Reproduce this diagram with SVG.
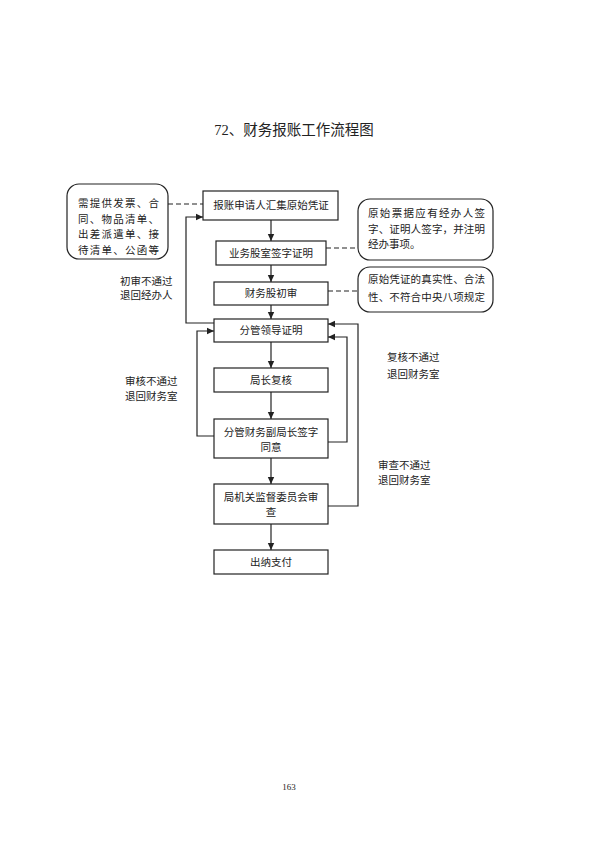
<svg xmlns="http://www.w3.org/2000/svg" width="596" height="842" viewBox="0 0 596 842">
<style>
  text { font-family: "Liberation Serif", "Noto Sans CJK SC", serif; fill: #222; font-size: 10.5px; }
  .c { text-anchor: middle; }
  .box { fill: #fff; stroke: #222; stroke-width: 1.2; }
  .note { fill: #fff; stroke: #222; stroke-width: 1.2; }
  .ln { fill: none; stroke: #222; stroke-width: 1.2; }
  .dash { fill: none; stroke: #222; stroke-width: 1.2; stroke-dasharray: 5 3; }
  .title { font-size: 14.5px; }
  .pg { font-size: 9px; }
</style>
<defs>
  <marker id="ah" markerUnits="userSpaceOnUse" markerWidth="8" markerHeight="8" refX="7" refY="4" orient="auto">
    <path d="M0,0.8 L7,4 L0,7.2 Z" fill="#222"/>
  </marker>
</defs>
<rect width="596" height="842" fill="#fff"/>
<text class="title c" x="294" y="135">72、财务报账工作流程图</text>

<g id="connectors">
  <line class="ln" x1="271" y1="220" x2="271" y2="241" marker-end="url(#ah)"/>
  <line class="ln" x1="271" y1="265" x2="271" y2="282" marker-end="url(#ah)"/>
  <line class="ln" x1="271" y1="305" x2="271" y2="319" marker-end="url(#ah)"/>
  <line class="ln" x1="271" y1="342" x2="271" y2="368" marker-end="url(#ah)"/>
  <line class="ln" x1="271" y1="392" x2="271" y2="419" marker-end="url(#ah)"/>
  <line class="ln" x1="271" y1="458" x2="271" y2="484" marker-end="url(#ah)"/>
  <line class="ln" x1="271" y1="524" x2="271" y2="550" marker-end="url(#ah)"/>
  <polyline class="ln" points="214,323 186,323 186,217 203,217" marker-end="url(#ah)"/>
  <polyline class="ln" points="214,436 197,436 197,331 214,331" marker-end="url(#ah)"/>
  <polyline class="ln" points="328,442 347,442 347,337 328,337" marker-end="url(#ah)"/>
  <polyline class="ln" points="328,506 358,506 358,324 328,324" marker-end="url(#ah)"/>
  <line class="dash" x1="168" y1="204" x2="203" y2="204"/>
  <line class="dash" x1="326" y1="248" x2="358" y2="248"/>
  <line class="dash" x1="328" y1="291" x2="358" y2="291"/>
</g>

<g id="note-left">
  <rect class="note" x="67" y="184" width="101" height="75" rx="12"/>
  <text x="78" y="207" textLength="81" lengthAdjust="spacing">需提供发票、合</text>
  <text x="78" y="223" textLength="81" lengthAdjust="spacing">同、物品清单、</text>
  <text x="78" y="238" textLength="81" lengthAdjust="spacing">出差派遣单、接</text>
  <text x="78" y="254" textLength="81" lengthAdjust="spacing">待清单、公函等</text>
</g>
<g id="note-right1">
  <rect class="note" x="358" y="199" width="135" height="61" rx="12"/>
  <text x="368" y="217" textLength="117" lengthAdjust="spacing">原始票据应有经办人签</text>
  <text x="368" y="233" textLength="117" lengthAdjust="spacing">字、证明人签字，并注明</text>
  <text x="368" y="248">经办事项。</text>
</g>
<g id="note-right2">
  <rect class="note" x="358" y="267" width="135" height="45" rx="12"/>
  <text x="368" y="283" textLength="117" lengthAdjust="spacing">原始凭证的真实性、合法</text>
  <text x="368" y="301" textLength="117" lengthAdjust="spacing">性、不符合中央八项规定</text>
</g>

<g id="n1"><rect class="box" x="203" y="191" width="135" height="29"/><text class="c" x="271" y="209">报账申请人汇集原始凭证</text></g>
<g id="n2"><rect class="box" x="216" y="241" width="110" height="24"/><text class="c" x="271" y="257">业务股室签字证明</text></g>
<g id="n3"><rect class="box" x="214" y="282" width="114" height="23"/><text class="c" x="271" y="297">财务股初审</text></g>
<g id="n4"><rect class="box" x="214" y="319" width="114" height="23"/><text class="c" x="271" y="334">分管领导证明</text></g>
<g id="n5"><rect class="box" x="214" y="368" width="114" height="24"/><text class="c" x="271" y="384">局长复核</text></g>
<g id="n6"><rect class="box" x="214" y="419" width="114" height="39"/><text class="c" x="271" y="436">分管财务副局长签字</text><text class="c" x="271" y="451">同意</text></g>
<g id="n7"><rect class="box" x="214" y="484" width="114" height="40"/><text class="c" x="271" y="501">局机关监督委员会审</text><text class="c" x="271" y="516">查</text></g>
<g id="n8"><rect class="box" x="214" y="550" width="114" height="24"/><text class="c" x="271" y="566">出纳支付</text></g>

<g id="labels">
  <text x="120" y="285">初审不通过</text>
  <text x="120" y="299">退回经办人</text>
  <text x="125" y="385">审核不通过</text>
  <text x="125" y="400">退回财务室</text>
  <text x="387" y="361">复核不通过</text>
  <text x="387" y="378">退回财务室</text>
  <text x="378" y="469">审查不通过</text>
  <text x="378" y="484">退回财务室</text>
</g>
<text class="pg c" x="289" y="790">163</text>
</svg>
